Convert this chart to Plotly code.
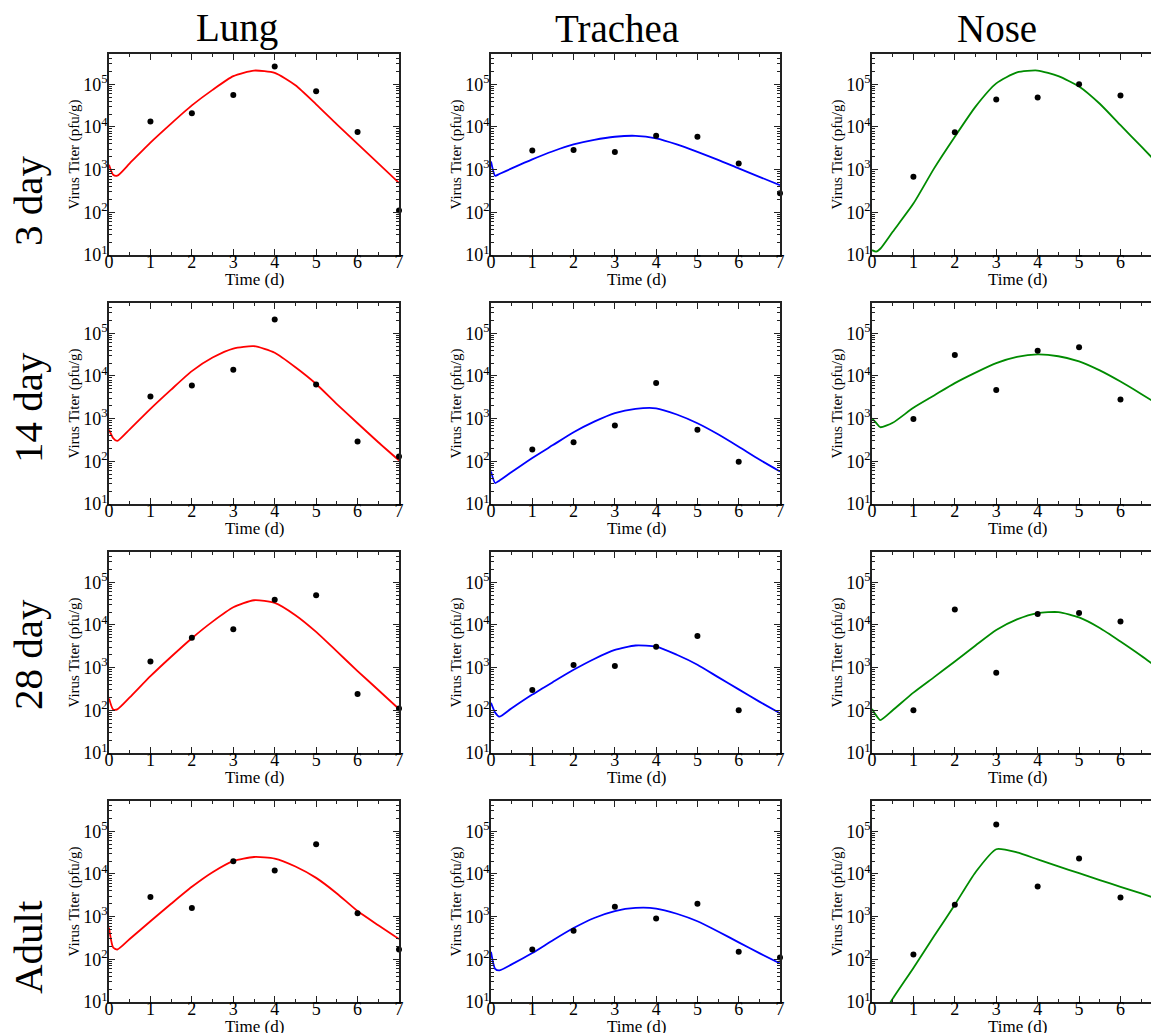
import plotly.graph_objects as go

# page size; the HTML body has an 8px default margin, so the figure is
# made smaller and all positions are given in page pixels and converted
PAGE_W, PAGE_H = 1159, 1033
OFF = 8
W, H = PAGE_W - OFF, PAGE_H - OFF

# ---------------- data ----------------
TISSUES = ["Lung", "Trachea", "Nose"]
AGES = ["3 day", "14 day", "28 day", "Adult"]
OBS_DAYS = [1, 2, 3, 4, 5, 6, 7]
CURVE_DAYS = [0, 0.1, 0.2, 0.5, 1, 1.5, 2, 2.5, 3, 3.5, 4, 4.5, 5, 5.5, 6, 6.5, 7]
X_TICKS = [0, 1, 2, 3, 4, 5, 6, 7]
Y_TICKS = [1e1, 1e2, 1e3, 1e4, 1e5]
Y_TICK_TEXT = ["10<sup>1</sup>", "10<sup>2</sup>", "10<sup>3</sup>", "10<sup>4</sup>", "10<sup>5</sup>"]
X_TITLE = "Time (d)"
Y_TITLE = "Virus Titer (pfu/g)"

# observed titers (pfu/g), day 1..7 (None = no data)
obs_lung_3d = [1.35e4, 2.1e4, 5.6e4, 2.6e5, 6.9e4, 7.6e3, 1.1e2]
obs_trachea_3d = [2.8e3, 2.9e3, 2.6e3, 6.2e3, 5.9e3, 1.4e3, 2.8e2]
obs_nose_3d = [6.8e2, 7.5e3, 4.4e4, 4.9e4, 1.0e5, 5.5e4, None]
obs_lung_14d = [3.3e3, 6.0e3, 1.4e4, 2.1e5, 6.3e3, 2.9e2, 1.3e2]
obs_trachea_14d = [1.9e2, 2.8e2, 6.9e2, 6.8e3, 5.5e2, 98, None]
obs_nose_14d = [9.8e2, 3.1e4, 4.7e3, 3.9e4, 4.7e4, 2.8e3, None]
obs_lung_28d = [1.4e3, 5.0e3, 7.9e3, 3.9e4, 5.0e4, 2.4e2, 1.1e2]
obs_trachea_28d = [3.0e2, 1.15e3, 1.1e3, 3.1e3, 5.5e3, 1.0e2, None]
obs_nose_28d = [1.0e2, 2.3e4, 7.6e2, 1.8e4, 1.9e4, 1.2e4, None]
obs_lung_adult = [2.9e3, 1.6e3, 2.0e4, 1.2e4, 5.0e4, 1.2e3, 1.7e2]
obs_trachea_adult = [1.7e2, 4.7e2, 1.7e3, 9.0e2, 2.0e3, 1.5e2, 1.1e2]
obs_nose_adult = [1.3e2, 1.9e3, 1.45e5, 5.1e3, 2.3e4, 2.8e3, None]

# model curves (pfu/g) sampled at CURVE_DAYS
fit_lung_3d = [1300, 760, 720, 1400, 4300, 1.2e4, 3.2e4, 7.4e4, 1.55e5, 2.1e5, 1.85e5,
               9.5e4, 3.4e4, 1.15e4, 4.0e3, 1.4e3, 490]
fit_trachea_3d = [1550, 720, 790, 1070, 1740, 2700, 3900, 5000, 5900, 6200, 5400,
                  3900, 2600, 1700, 1070, 680, 430]
fit_nose_3d = [13, 12, 14, 35, 160, 1070, 5900, 3.0e4, 1.05e5, 1.9e5, 2.1e5,
               1.55e5, 8.9e4, 3.5e4, 1.1e4, 3500, 1100]
fit_lung_14d = [550, 350, 300, 560, 1700, 4800, 1.3e4, 2.7e4, 4.4e4, 5.0e4, 3.5e4,
                1.6e4, 6500, 2200, 780, 280, 105]
fit_trachea_14d = [58, 31, 35, 56, 120, 240, 480, 850, 1350, 1700, 1750,
                   1250, 780, 430, 220, 110, 58]
fit_nose_14d = [1020, 800, 630, 800, 1800, 3500, 6800, 1.2e4, 2.0e4, 2.8e4, 3.2e4,
                2.9e4, 2.2e4, 1.35e4, 7400, 3800, 1900]
fit_lung_28d = [190, 105, 105, 200, 630, 1800, 4900, 1.2e4, 2.6e4, 3.8e4, 3.3e4,
                1.7e4, 6900, 2400, 830, 300, 107]
fit_trachea_28d = [150, 89, 71, 112, 234, 460, 890, 1600, 2600, 3300, 3100,
                   2000, 1170, 600, 310, 160, 85]
fit_nose_28d = [107, 76, 59, 100, 260, 600, 1400, 3300, 7600, 1.35e4, 1.9e4,
                2.0e4, 1.5e4, 8500, 4100, 1900, 830]
fit_lung_adult = [550, 190, 170, 300, 780, 2000, 5000, 1.1e4, 2.0e4, 2.5e4, 2.3e4,
                  1.5e4, 8100, 3500, 1350, 630, 300]
fit_trachea_adult = [150, 60, 55, 76, 140, 280, 540, 930, 1350, 1600, 1550,
                     1170, 780, 450, 250, 140, 80]
fit_nose_adult = [2, 2.8, 4, 12, 63, 350, 1900, 1.1e4, 3.8e4, 3.2e4, 2.2e4,
                  1.5e4, 1.05e4, 7200, 5000, 3500, 2400]

OBS = [[obs_lung_3d, obs_trachea_3d, obs_nose_3d],
       [obs_lung_14d, obs_trachea_14d, obs_nose_14d],
       [obs_lung_28d, obs_trachea_28d, obs_nose_28d],
       [obs_lung_adult, obs_trachea_adult, obs_nose_adult]]
FITS = [[fit_lung_3d, fit_trachea_3d, fit_nose_3d],
        [fit_lung_14d, fit_trachea_14d, fit_nose_14d],
        [fit_lung_28d, fit_trachea_28d, fit_nose_28d],
        [fit_lung_adult, fit_trachea_adult, fit_nose_adult]]

# ---------------- style / layout (page pixels) ----------------
COLORS = ["#ff0000", "#0000ff", "#008b00"]
FONT = "Liberation Serif, Times New Roman, serif"
AXIS_COLOR = "#222222"
COL_LEFT = [109, 491, 872]
COL_RIGHT = [399, 780, 1159]
X_MAX = [7, 7, 6.93]
ROW_TOP = [54, 303, 552, 801]
ROW_H = 201
ROW_LABEL_Y = [201, 408, 655, 947]
COL_TITLE_X = [237, 617, 997]


def px(x):
    return (x - OFF) / W


def py(y):
    return 1 - (y - OFF) / H


minor_y = [m * 10 ** e for e in range(1, 6) for m in range(2, 10)]

fig = go.Figure()
layout = {}
annotations = []
for r in range(4):
    for c in range(3):
        k = r * 3 + c + 1
        xa = "x" if k == 1 else f"x{k}"
        ya = "y" if k == 1 else f"y{k}"
        fig.add_trace(go.Scatter(
            x=CURVE_DAYS, y=FITS[r][c], mode="lines",
            line=dict(color=COLORS[c], width=1.8, shape="spline", smoothing=0.6),
            xaxis=xa, yaxis=ya, showlegend=False, hoverinfo="skip"))
        fig.add_trace(go.Scatter(
            x=OBS_DAYS, y=OBS[r][c], mode="markers",
            marker=dict(color="black", size=6),
            xaxis=xa, yaxis=ya, showlegend=False, cliponaxis=False))
        common = dict(
            showline=True, linecolor=AXIS_COLOR, linewidth=1.5,
            ticks="inside", ticklen=6, tickwidth=1.2, tickcolor=AXIS_COLOR,
            mirror="allticks", showgrid=False, zeroline=False,
            tickfont=dict(family=FONT, size=18, color="black"),
            automargin=False,
        )
        layout["xaxis" if k == 1 else f"xaxis{k}"] = dict(
            common,
            domain=[px(COL_LEFT[c]), min(1.0, px(COL_RIGHT[c]))],
            anchor=ya, range=[0, X_MAX[c]],
            tickvals=X_TICKS, ticklabelstandoff=-10,
            minor=dict(ticks="inside", ticklen=3, tickwidth=1, tickcolor=AXIS_COLOR, dtick=0.5, tick0=0),
        )
        layout["yaxis" if k == 1 else f"yaxis{k}"] = dict(
            common,
            domain=[py(ROW_TOP[r] + ROW_H), py(ROW_TOP[r])],
            anchor=xa, type="log", range=[1, 5.71],
            tickvals=Y_TICKS, ticktext=Y_TICK_TEXT, ticklabelstandoff=-4,
            minor=dict(ticks="inside", ticklen=3, tickwidth=1, tickcolor=AXIS_COLOR, tickvals=minor_y),
        )
        # axis titles
        annotations.append(dict(
            text=X_TITLE, x=px(COL_LEFT[c] + 145), y=py(ROW_TOP[r] + ROW_H + 24),
            xref="paper", yref="paper", showarrow=False, xanchor="center", yanchor="middle",
            font=dict(family=FONT, size=17, color="black")))
        annotations.append(dict(
            text=Y_TITLE, x=px(COL_LEFT[c] - 35), y=py(ROW_TOP[r] + ROW_H / 2),
            xref="paper", yref="paper", showarrow=False, xanchor="center", yanchor="middle",
            textangle=-90, font=dict(family=FONT, size=15, color="black")))

for c, name in enumerate(TISSUES):
    annotations.append(dict(text=name, x=px(COL_TITLE_X[c]), y=py(28), xref="paper", yref="paper",
                            showarrow=False, xanchor="center", yanchor="middle",
                            font=dict(family=FONT, size=39, color="black")))
for r, name in enumerate(AGES):
    annotations.append(dict(text=name, x=px(28), y=py(ROW_LABEL_Y[r]), xref="paper", yref="paper",
                            showarrow=False, xanchor="center", yanchor="middle", textangle=-90,
                            font=dict(family=FONT, size=41, color="black")))

fig.update_layout(
    width=W, height=H, autosize=False,
    margin=dict(l=0, r=0, t=0, b=0),
    paper_bgcolor="white", plot_bgcolor="white",
    template="none",
    annotations=annotations,
    **layout,
)
fig.write_html("out.html")
